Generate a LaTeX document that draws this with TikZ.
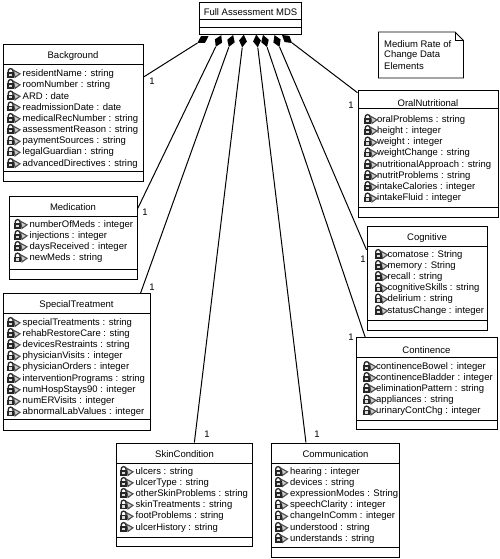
\documentclass[tikz,border=0pt]{standalone}
\usepackage{fontspec}
\setmainfont{Liberation Sans}
\usetikzlibrary{fit,shapes.geometric}

\tikzset{
  classbox/.style={draw,line width=1pt,inner sep=0pt,fit={#1}},
  classname/.style={yshift=-0.8pt,font=\fontsize{9.5}{11}\selectfont},
  attrtext/.style={anchor=west,yshift=-0.8pt,inner sep=0pt,font=\fontsize{9.5}{11}\selectfont},
  multi/.style={inner sep=1pt,font=\fontsize{9.5}{11}\selectfont},
  compdiamond/.style={diamond,fill=black,inner sep=0pt,minimum width=13pt,minimum height=8pt},
  attricon/.pic={
    \draw[line width=1.3pt,black!85] (1.2,-0.5) -- (1.2,-2) arc (180:360:2.4) -- (6,-0.5);
    \draw[line width=1.1pt,black!70,fill=black!20] (6.5,-2.8) -- (13,0.8) -- (8,4.4) -- cycle;
    \fill[black!85] (0,-0.8) rectangle (7.4,4.6);
    \fill[black!15] (2,0.8) rectangle (5.4,3);
  }
}
% one attribute row: x, y, name, text
\newcommand{\attrgap}{15.5}
\newcommand{\attrrow}[4]{
  \pic at (#1,#2) {attricon};
  \node[attrtext] (#3) at (#1+\attrgap,#2) {#4};
}

\begin{document}
\begin{tikzpicture}[x=1pt,y=-1pt]
\useasboundingbox (0,0) rectangle (500,559);

%% Top class
\node[classbox={(199.5,3) (301.5,35)}] (fullMDS) {};
\node[classname] (fullMDSName) at (250.5,11.5) {Full Assessment MDS};
\draw[line width=1pt] (199.5,19.5) -- (301.5,19.5);
\draw[line width=1pt] (199.5,27.5) -- (301.5,27.5);

%% Note
\draw[line width=0.8pt] (378.5,32) -- (455,32) -- (463.5,40.5) -- (463.5,78) -- (378.5,78) -- cycle;
\draw[line width=0.8pt] (455,32) -- (455,40.5) -- (463.5,40.5);
\node[attrtext] (noteA) at (384,43) {Medium Rate of};
\node[attrtext] (noteB) at (384,54.5) {Change Data};
\node[attrtext] (noteC) at (384,65.5) {Elements};

%% Background
\node[classbox={(3,45) (143,181)}] (background) {};
\node[classname] (backgroundName) at (73,55.5) {Background};
\draw[line width=1pt] (3,64.5) -- (143,64.5);
\draw[line width=1pt] (3,171.5) -- (143,171.5);
\attrrow{7}{73}{bgA}{residentName : string}
\attrrow{7}{84}{bgB}{roomNumber : string}
\attrrow{7}{95.5}{bgC}{ARD : date}
\attrrow{7}{106.5}{bgD}{readmissionDate : date}
\attrrow{7}{118}{bgE}{medicalRecNumber : string}
\attrrow{7}{129}{bgF}{assessmentReason : string}
\attrrow{7}{140.5}{bgG}{paymentSources : string}
\attrrow{7}{151.5}{bgH}{legalGuardian : string}
\attrrow{7}{163}{bgI}{advancedDirectives : string}

%% Medication
\node[classbox={(9.5,196) (137,279)}] (medication) {};
\node[classname] (medicationName) at (73,206.5) {Medication};
\draw[line width=1pt] (9.5,216) -- (137,216);
\draw[line width=1pt] (9.5,269.5) -- (137,269.5);
\attrrow{14}{224}{medA}{numberOfMeds : integer}
\attrrow{14}{235}{medB}{injections : integer}
\attrrow{14}{246}{medC}{daysReceived : integer}
\attrrow{14}{257.5}{medD}{newMeds : string}

%% SpecialTreatment
\node[classbox={(3,293.5) (150,430)}] (specialTreatment) {};
\node[classname] (specialTreatmentName) at (76.5,304.5) {SpecialTreatment};
\draw[line width=1pt] (3,313.5) -- (150,313.5);
\draw[line width=1pt] (3,419.5) -- (150,419.5);
\attrrow{7}{322}{stA}{specialTreatments : string}
\attrrow{7}{333}{stB}{rehabRestoreCare : sting}
\attrrow{7}{344}{stC}{devicesRestraints : string}
\attrrow{7}{355.5}{stD}{physicianVisits : integer}
\attrrow{7}{366.5}{stE}{physicianOrders : integer}
\attrrow{7}{378}{stF}{interventionPrograms : string}
\attrrow{7}{389}{stG}{numHospStays90 : integer}
\attrrow{7}{400.5}{stH}{numERVisits : integer}
\attrrow{7}{411.5}{stI}{abnormalLabValues : integer}

%% SkinCondition
\node[classbox={(116.5,443) (252,546)}] (skinCondition) {};
\node[classname] (skinConditionName) at (184.5,453.5) {SkinCondition};
\draw[line width=1pt] (116.5,463) -- (252,463);
\draw[line width=1pt] (116.5,537) -- (252,537);
\attrrow{120}{471}{skinA}{ulcers : string}
\attrrow{120}{482}{skinB}{ulcerType : string}
\attrrow{120}{493}{skinC}{otherSkinProblems : string}
\attrrow{120}{504.5}{skinD}{skinTreatments : string}
\attrrow{120}{515.5}{skinE}{footProblems : string}
\attrrow{120}{527}{skinF}{ulcerHistory : string}

%% Communication
\node[classbox={(271,443) (399.5,557)}] (communication) {};
\node[classname] (communicationName) at (335.5,453.5) {Communication};
\draw[line width=1pt] (271,463) -- (399.5,463);
\draw[line width=1pt] (271,547) -- (399.5,547);
\attrrow{274.5}{471}{comA}{hearing : integer}
\attrrow{274.5}{482}{comB}{devices : string}
\attrrow{274.5}{493}{comC}{expressionModes : String}
\attrrow{274.5}{504.5}{comD}{speechClarity : integer}
\attrrow{274.5}{515.5}{comE}{changeInComm : integer}
\attrrow{274.5}{527}{comF}{understood : string}
\attrrow{274.5}{538}{comG}{understands : string}

%% the classes on the right have their icons closer to the text
\renewcommand{\attrgap}{13}

%% OralNutritional
\node[classbox={(358,91) (498,217)}] (oralNutritional) {};
\node[classname] (oralNutritionalName) at (428,102) {OralNutritional};
\draw[line width=1pt] (358,108.5) -- (498,108.5);
\draw[line width=1pt] (358,207.5) -- (498,207.5);
\attrrow{364}{119}{oralA}{oralProblems : string}
\attrrow{364}{130}{oralB}{height : integer}
\attrrow{364}{141.5}{oralC}{weight : integer}
\attrrow{364}{152.5}{oralD}{weightChange : string}
\attrrow{364}{164}{oralE}{nutritionalApproach : string}
\attrrow{364}{175}{oralF}{nutritProblems : string}
\attrrow{364}{186}{oralG}{intakeCalories : integer}
\attrrow{364}{197.5}{oralH}{intakeFluid : integer}

%% Cognitive
\node[classbox={(367,226) (487,330)}] (cognitive) {};
\node[classname] (cognitiveName) at (427,237) {Cognitive};
\draw[line width=1pt] (367,246) -- (487,246);
\draw[line width=1pt] (367,320) -- (487,320);
\attrrow{374.5}{254}{cogA}{comatose : String}
\attrrow{374.5}{265}{cogB}{memory : String}
\attrrow{374.5}{276}{cogC}{recall : string}
\attrrow{374.5}{287.5}{cogD}{cognitiveSkills : string}
\attrrow{374.5}{298.5}{cogE}{delirium : string}
\attrrow{374.5}{310}{cogF}{statusChange : integer}

%% Continence
\node[classbox={(356,337.5) (497,429)}] (continence) {};
\node[classname] (continenceName) at (426.5,349) {Continence};
\draw[line width=1pt] (356,357.5) -- (497,357.5);
\draw[line width=1pt] (356,420) -- (497,420);
\attrrow{363}{366}{conA}{continenceBowel : integer}
\attrrow{363}{377}{conB}{continenceBladder : integer}
\attrrow{363}{388}{conC}{eliminationPattern : string}
\attrrow{363}{399.5}{conD}{appliances : string}
\attrrow{363}{410.5}{conE}{urinaryContChg : integer}

%% Diamonds under the top class
\node[compdiamond,rotate=31] (dBackground) at (203,39.5) {};
\node[compdiamond,rotate=64.3] (dMedication) at (218.5,41) {};
\node[compdiamond,rotate=70.2] (dSpecial) at (231,41) {};
\node[compdiamond,rotate=83] (dSkin) at (243,41) {};
\node[compdiamond,rotate=97] (dCommunication) at (257,41) {};
\node[compdiamond,rotate=108.4] (dContinence) at (265,41) {};
\node[compdiamond,rotate=113.2] (dCognitive) at (277,41) {};
\node[compdiamond,rotate=141.2] (dOral) at (287,39) {};

%% Connectors
\draw[line width=1pt] (dBackground) -- (background.27.9);
\draw[line width=1pt] (dMedication) -- (medication.24.7);
\draw[line width=1pt] (dSpecial) -- (specialTreatment.47);
\draw[line width=1pt] (dSkin) -- (skinCondition.79);
\draw[line width=1pt] (dCommunication) -- (communication.117);
\draw[line width=1pt] (dContinence) -- (continence.143.6);
\draw[line width=1pt] (dCognitive) -- (cognitive.155);
\draw[line width=1pt] (dOral) -- (oralNutritional.139.9);

%% Multiplicities
\node[multi] (mBackground) at (152,81) {1};
\node[multi] (mMedication) at (145,212) {1};
\node[multi] (mSpecial) at (152,287) {1};
\node[multi] (mSkin) at (207,434) {1};
\node[multi] (mCommunication) at (317,434) {1};
\node[multi] (mOral) at (351,105.5) {1};
\node[multi] (mCognitive) at (363,259) {1};
\node[multi] (mContinence) at (351,337) {1};
\end{tikzpicture}
\end{document}
